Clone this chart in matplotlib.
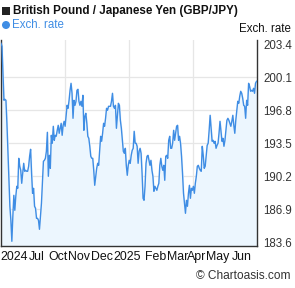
import matplotlib
matplotlib.use("Agg")
import matplotlib.pyplot as plt
from matplotlib.patches import Rectangle, Ellipse
import numpy as np

plt.rcParams['font.family'] = ['Liberation Sans', 'DejaVu Sans']

# GBP/JPY daily exchange rate, mid-2024 to mid-2025
rates = [
    203.5, 203.2, 200.5, 197.8, 197.9, 197.8, 195.5, 192.8, 189.8, 187.2,
    185.8, 183.7, 186.2, 188.3, 186.8, 188.2, 189.2, 189.0, 192.0, 191.2,
    190.8, 189.5, 190.5, 191.5, 190.7, 190.8, 190.7, 190.7, 191.2, 192.2,
    192.9, 190.5, 188.5, 189.0, 187.2, 187.0, 186.0, 186.0, 185.8, 184.9,
    186.2, 187.5, 189.5, 191.7, 191.8, 192.0, 192.7, 194.6, 190.2, 192.3,
    191.0, 194.3, 193.5, 195.2, 193.8, 194.3, 194.2, 194.8, 195.3, 194.5,
    195.0, 195.5, 194.3, 195.3, 195.7,
    195.2, 196.2, 197.3, 197.0, 197.8, 198.8, 199.5, 198.5, 196.0, 197.8,
    197.3, 197.7, 198.8, 198.9, 197.7, 197.3, 197.7, 197.2, 198.3, 194.8,
    196.2, 196.5, 195.5, 194.2, 194.0, 193.2, 192.2, 192.0, 192.0, 190.8,
    189.3, 190.2, 191.0, 191.5, 191.3, 192.8, 194.2, 193.7, 194.5, 195.5,
    195.2, 196.0, 197.0, 196.8, 197.2, 197.2, 197.2, 197.7, 198.5, 197.2,
    197.0, 197.3, 195.0, 196.2, 197.5, 197.3, 195.8, 195.0, 193.8, 192.7,
    192.5, 193.0, 191.3, 190.3, 191.3, 191.8,
    191.5, 192.3, 192.8, 193.0, 194.7, 193.5, 193.5, 193.2, 191.5, 192.7,
    193.0, 192.5, 190.5, 188.0, 187.8, 189.2, 191.5, 192.2, 192.3, 191.8,
    191.3, 191.8, 190.8, 190.2, 188.7, 189.2, 189.0, 188.8, 189.2, 189.5,
    191.3, 192.0, 191.2, 190.8, 191.3, 189.8, 192.2, 192.3, 192.0, 193.8,
    194.2, 193.0, 193.0, 193.5, 194.8, 193.8, 194.5, 195.2, 195.3, 193.8,
    194.2, 193.5, 192.2, 190.5, 188.5, 187.5, 186.5, 187.8, 187.2, 188.5,
    189.3, 188.0, 189.0, 188.8, 189.2,
    188.5, 189.5, 190.2, 191.2, 191.3, 191.0, 190.8, 190.7, 193.2, 192.3,
    191.0, 191.2, 192.3, 193.3, 193.5, 194.8, 196.3, 195.0, 193.7, 193.8,
    193.5, 193.7, 193.0, 193.3, 193.5, 194.5, 195.7, 194.7, 193.7, 194.0,
    193.2, 193.8, 194.8, 195.8, 196.0, 195.8, 195.5, 195.2, 195.7, 196.3,
    195.3, 194.5, 195.8, 196.8, 197.7, 197.5, 198.2, 198.7, 198.5, 198.0,
    197.3, 197.2, 196.0, 197.8, 197.3, 199.5, 199.2, 198.7, 198.8, 198.7,
    199.0, 198.5, 199.5, 199.7,
]
yticks = [183.6, 186.9, 190.2, 193.5, 196.8, 200.1, 203.4]
xlabels = ["2024", "Jul", "Oct", "Nov", "Dec", "2025", "Feb", "Mar", "Apr", "May", "Jun"]
# label centre positions as fraction of the plot width
xlabel_frac = [0.051, 0.141, 0.223, 0.305, 0.395, 0.493, 0.604, 0.693, 0.767, 0.849, 0.944]

W, H = 295, 288
fig = plt.figure(figsize=(W / 100, H / 100), dpi=100)
ax = fig.add_axes([1 / W, 42.3 / H, 255.5 / W, 205.7 / H])

x = np.arange(len(rates))
n = len(rates) - 1
line_c = '#3f8de4'
ax.fill_between(x, rates, 183.0, color='#ecf6fe', zorder=1)
ax.plot(x, rates, color=line_c, lw=1.0, zorder=3)

ax.set_xlim(0, n)
ax.set_ylim(183.26, 203.83)

ax.set_yticks(yticks)
ax.yaxis.tick_right()
ax.set_yticklabels([f"{v:.1f}" for v in yticks], color='#333333', fontsize=8.3)
ax.tick_params(axis='y', length=0, pad=5)

ax.set_xticks([n * f for f in xlabel_frac])
ax.set_xticklabels(xlabels, fontsize=8.9, color='#111111')
ax.tick_params(axis='x', length=0, pad=4)

for v in yticks[1:-1]:
    ax.axhline(v, color='#e6e6e6', lw=0.9, zorder=0)
for f in (0.25, 0.5, 0.75):
    ax.axvline(n * f, color='#e6e6e6', lw=0.9, zorder=0)

for s in ('left', 'bottom', 'right'):
    ax.spines[s].set_color('#333333')
    ax.spines[s].set_linewidth(1.0)
ax.spines['top'].set_visible(False)

# legend markers
fig.patches.append(Rectangle((2 / W, 1 - 15 / H), 8 / W, 8 / H, transform=fig.transFigure,
                             facecolor='#222222', edgecolor='none'))
fig.patches.append(Ellipse((6 / W, 1 - 25 / H), 8 / W, 8 / H, transform=fig.transFigure,
                           facecolor=line_c, edgecolor='none'))

fig.text(13 / W, 1 - 11 / H, "British Pound / Japanese Yen (GBP/JPY)", fontsize=8.4,
         fontweight='bold', color='#111111', va='center', ha='left')
fig.text(11.5 / W, 1 - 25.5 / H, "Exch. rate", fontsize=8.3, color=line_c,
         va='center', ha='left')
fig.text(291 / W, 1 - 28.5 / H, "Exch. rate", fontsize=8.3, color='#111111',
         va='center', ha='right')
fig.text(291 / W, 1 - 276 / H, "© Chartoasis.com", fontsize=8.6, color='#333333',
         va='center', ha='right')

fig.savefig("out.png", dpi=100)
